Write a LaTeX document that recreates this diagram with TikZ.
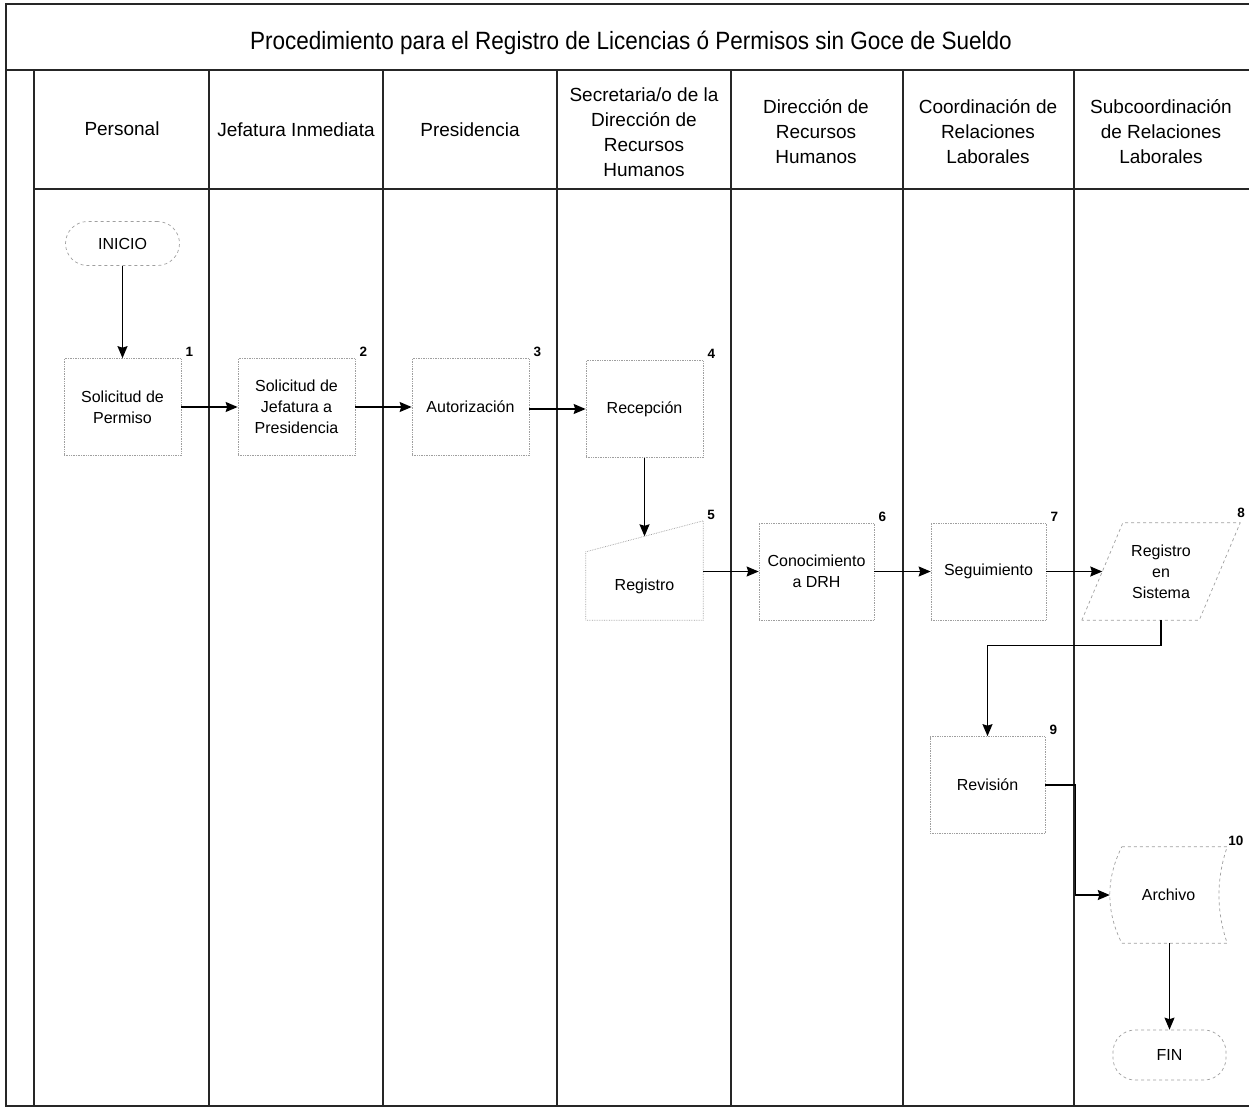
\documentclass[tikz,border=0pt]{standalone}
\usepackage{fontspec}
\setmainfont{Liberation Sans}
\newfontfamily\titulofont{Liberation Sans}[FakeStretch=0.9]
\usetikzlibrary{arrows.meta,calc}

\begin{document}
\begin{tikzpicture}[x=1pt,y=1pt,
        linea/.style={line width=1.4pt,draw=black!85},
        flecha/.style={-{Stealth[length=12pt,width=10pt,inset=1.5pt]},line width=1.4pt},
        caja/.style={rectangle,draw=gray!75,densely dotted,line width=0.7pt,minimum width=117pt,minimum height=97pt,align=center,inner sep=2pt,font=\fontsize{16}{21}\selectfont},
        forma/.style={rectangle,minimum width=117pt,minimum height=97pt,align=center,inner sep=2pt,font=\fontsize{16}{21}\selectfont},
        borde/.style={draw=gray!75,dashed,line width=0.7pt},
        terminal/.style={rectangle,rounded corners=22pt,draw=gray!75,dashed,line width=0.7pt,minimum width=114pt,minimum height=44pt,font=\fontsize{16}{20}\selectfont},
        carril/.style={align=center,font=\fontsize{19}{25}\selectfont},
        numero/.style={anchor=south west,inner sep=1pt,font=\fontsize{13.5}{15}\selectfont\bfseries}]

        \useasboundingbox (0,0) rectangle (1249,-1108);

        % marco y carriles
        \draw[linea] (1262,-4) -- (6,-4) -- (6,-1106) -- (1262,-1106);
        \draw[linea] (6,-70) -- (1262,-70);
        \draw[linea] (34,-189) -- (1262,-189);
        \foreach \x in {34,209,383,557,731,903,1074}
            \draw[linea] (\x,-70) -- (\x,-1106);

        \draw (631,-43) node (titulo) {\titulofont\fontsize{25}{30}\selectfont Procedimiento para el Registro de Licencias ó Permisos sin Goce de Sueldo};

        \draw (122,-129) node (personal) [carril] {Personal};
        \draw (296,-130) node (jefatura) [carril] {Jefatura Inmediata};
        \draw (470,-130) node (presidencia) [carril] {Presidencia};
        \draw (644,-132) node (secretaria) [carril] {Secretaria/o de la\\Dirección de\\Recursos\\Humanos};
        \draw (816,-132) node (drh) [carril] {Dirección de\\Recursos\\Humanos};
        \draw (988,-132) node (coord) [carril] {Coordinación de\\Relaciones\\Laborales};
        \draw (1161,-132) node (subcoord) [carril] {Subcoordinación\\de Relaciones\\Laborales};

        % actividades
        \draw (122.5,-243.5) node (inicio) [terminal] {INICIO};
        \draw (122.5,-407) node (b1) [caja] {Solicitud de\\Permiso};
        \draw (296.5,-407) node (b2) [caja] {Solicitud de\\Jefatura a\\Presidencia};
        \draw (470.5,-407) node (b3) [caja] {Autorización};
        \draw (644.5,-409) node (b4) [caja] {Recepción};
        \draw (644.5,-586) node (b5) [forma,minimum height=68pt] {Registro};
        \draw (816.5,-571.5) node (b6) [caja,minimum width=115pt] {Conocimiento\\a DRH};
        \draw (988.5,-571.5) node (b7) [caja,minimum width=115pt] {Seguimiento};
        \draw (1161,-571.5) node (b8) [forma,minimum width=158pt] {Registro\\en\\Sistema};
        \draw (987.5,-785) node (b9) [caja,minimum width=115pt] {Revisión};
        \draw (1174.5,-895) node (b10) [forma,minimum width=105pt,minimum height=96pt] {\hspace*{-12pt}Archivo};
        \draw (1169.5,-1055) node (fin) [terminal,minimum width=113pt,minimum height=50pt] {FIN};

        % contornos especiales
        \draw[densely dotted,draw=gray!75,line width=0.7pt] (b5.south west) -- (b5.north west) -- ($(b5.north east)+(0,31)$) -- (b5.south east) -- cycle;
        \draw[borde] (b8.south west) -- ($(b8.north west)+(41,0)$) -- (b8.north east) -- ($(b8.south east)+(-41,0)$) -- cycle;
        \draw[borde] (b10.north west) -- (b10.north east) .. controls ($(b10.north east)+(-11,-32)$) and ($(b10.south east)+(-11,32)$) .. (b10.south east) -- (b10.south west) .. controls ($(b10.south west)+(-16,32)$) and ($(b10.north west)+(-16,-32)$) .. (b10.north west);

        \coordinate (b5in) at ($(b5.north)+(0,15.5)$);
        \coordinate (b8in) at ($(b8.west)+(20.5,0)$);
        \coordinate (b10in) at ($(b10.west)+(-12,0)$);

        % numeros
        \draw ($(b1.north east)+(3,0)$) node (n1) [numero] {1};
        \draw ($(b2.north east)+(3,0)$) node (n2) [numero] {2};
        \draw ($(b3.north east)+(3,0)$) node (n3) [numero] {3};
        \draw ($(b4.north east)+(3,0)$) node (n4) [numero] {4};
        \draw ($(b5.north east)+(3,31)$) node (n5) [numero] {5};
        \draw ($(b6.north east)+(3,0)$) node (n6) [numero] {6};
        \draw ($(b7.north east)+(3,0)$) node (n7) [numero] {7};
        \draw ($(b8.north east)+(-4,4)$) node (n8) [numero] {8};
        \draw ($(b10.north east)+(0,0)$) node (n10) [numero] {10};
        \draw ($(b9.north east)+(3,0)$) node (n9) [numero] {9};

        % flujo
        \draw[flecha] (inicio.south) -- (b1.north);
        \draw[flecha] (b1.east) -- (b2.west);
        \draw[flecha] (b2.east) -- (b3.west);
        \draw[flecha] (b3.east |- b4.west) -- (b4.west);
        \draw[flecha] (b4.south) -- (b5in);
        \draw[flecha] (b5.east |- b6.west) -- (b6.west);
        \draw[flecha] (b6.east) -- (b7.west);
        \draw[flecha] (b7.east) -- (b8in);
        \draw[flecha] (b8.south) -- ++(0,-25) -| (b9.north);
        \draw[flecha] (b9.east) -- ++(30,0) |- (b10in);
        \draw[flecha] (fin.north |- b10.south) -- (fin.north);
    \end{tikzpicture}
\end{document}
